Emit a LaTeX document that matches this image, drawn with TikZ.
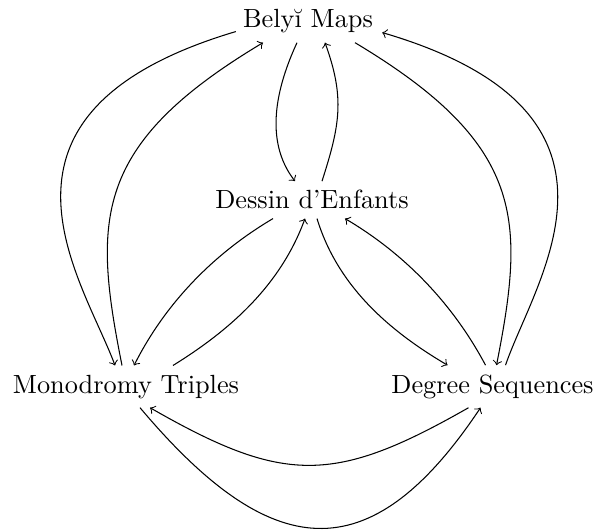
\documentclass[tikz,border=0pt]{standalone}
\usetikzlibrary{calc}
\begin{document}
\begin{tikzpicture}[x=0.3802pt,y=0.3802pt,
  lbl/.style={inner sep=3.333pt, anchor=base},
  arr/.style={->}]
\useasboundingbox (0,0) rectangle (596,-531);
\node[lbl] (B) at (308,-28) {Belyĭ Maps};
\node[lbl] (D) at (312,-209) {Dessin d'Enfants};
\node[lbl] (M) at (126,-393) {Monodromy Triples};
\node[lbl] (S) at (492.5,-393) {Degree Sequences};
% Belyi <-> Dessin
\draw[arr] ($(B.south)+(-11,0)$) .. controls (276,-88) and (264,-141) .. ($(D.north)+(-17,0)$);
\draw[arr] ($(D.north)+(10,0)$) .. controls (340,-125) and (345,-98) .. ($(B.south)+(17,0)$);
% Belyi <-> Monodromy
\draw[arr] ($(B.west)+(2,-10)$) .. controls (-38,-113) and (83,-279) .. ($(M.north)+(-11,0)$);
\draw[arr] ($(M.north)+(-4,0)$) .. controls (93,-220) and (92,-145) .. ($(B.south)+(-45,0)$);
% Belyi <-> Degree
\draw[arr] ($(B.south)+(47,0)$) .. controls (526,-145) and (525,-220) .. ($(S.north)+(4,0)$);
\draw[arr] ($(S.north)+(13,0)$) .. controls (535,-279) and (656,-113) .. ($(B.east)+(0,-11)$);
% Dessin <-> Monodromy
\draw[arr] ($(D.south)+(-39,0)$) .. controls (213,-254) and (165,-304) .. ($(M.north)+(8,0)$);
\draw[arr] ($(M.north)+(47,0)$) .. controls (232,-329) and (281,-284) .. ($(D.south)+(-7,0)$);
% Dessin <-> Degree
\draw[arr] ($(D.south)+(5,0)$) .. controls (337,-284) and (386,-329) .. ($(S.north)+(-45,0)$);
\draw[arr] ($(S.north)+(-7,0)$) .. controls (453,-304) and (405,-254) .. ($(D.south)+(33,0)$);
% Monodromy <-> Degree
\draw[arr] ($(M.south)+(14,0)$) .. controls (270,-562) and (369,-575) .. ($(S.south)+(-12,0)$);
\draw[arr] ($(S.south)+(-24,0)$) .. controls (334,-484.5) and (284,-484.5) .. ($(M.south)+(24,0)$);
\end{tikzpicture}
\end{document}
